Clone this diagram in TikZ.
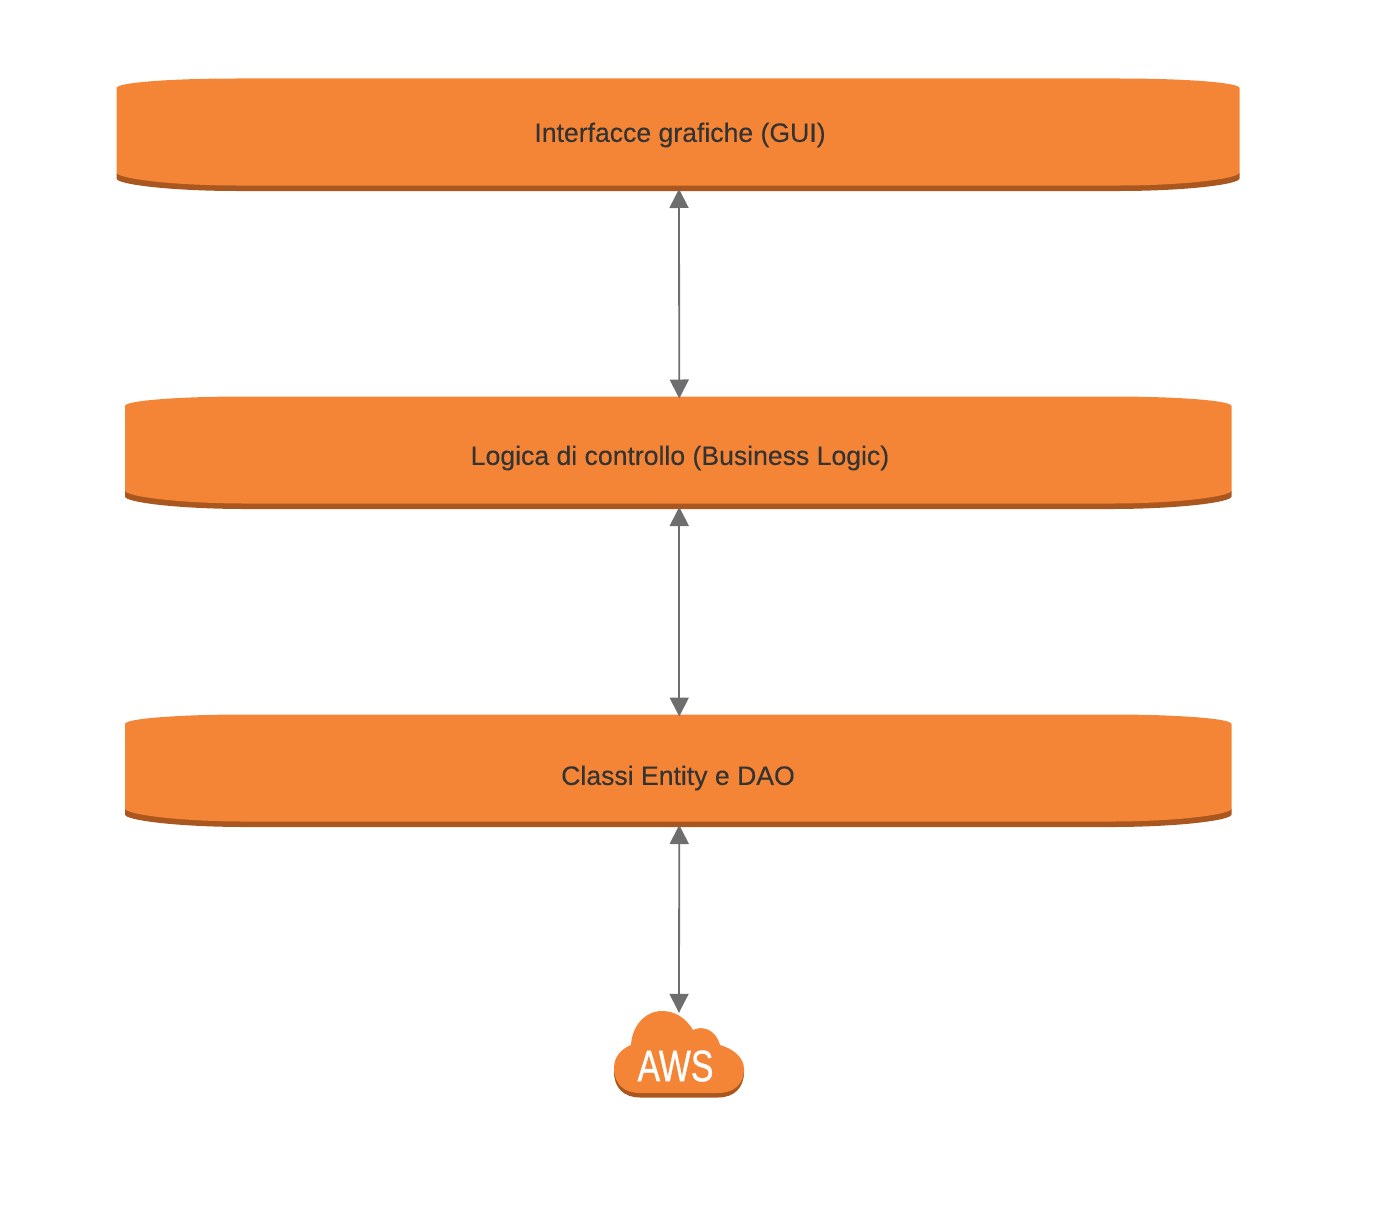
\documentclass[tikz,border=0pt]{standalone}
\usepackage{fontspec}
\setmainfont{Liberation Sans}
\newfontfamily\labelface[FakeBold=0.25]{Liberation Sans}
\newfontfamily\awsface[FakeBold=0.9]{Liberation Sans}
\usetikzlibrary{arrows.meta,calc}
\definecolor{awsorange}{HTML}{F58536}
\definecolor{awsdark}{HTML}{A9571F}
\definecolor{linkgray}{HTML}{6E6E6E}
\definecolor{labelink}{HTML}{333333}
\tikzset{
  layerbox/.style={rectangle,inner sep=0pt,outer sep=0pt},
  layertext/.style={inner sep=0pt,text=labelink,font=\labelface\fontsize{26.6}{30}\selectfont},
  link/.style={draw=linkgray,line width=1.8pt,{Triangle[length=19pt,width=19pt]}-{Triangle[length=19pt,width=19pt]},shorten >=-2pt,shorten <=-2pt},
}
% layer: name, left, right, top
\newcommand{\layerdraw}[4]{%
  \pgfmathsetmacro{\ll}{#2}\pgfmathsetmacro{\rr}{#3}\pgfmathsetmacro{\tp}{#4}
  \fill[awsdark] (\ll,\tp+94) -- (\ll,\tp+100) .. controls (\ll,\tp+106) and (\ll+55,\tp+112.5) .. (\ll+120,\tp+112.5)
     -- (\rr-120,\tp+112.5) .. controls (\rr-55,\tp+112.5) and (\rr,\tp+106) .. (\rr,\tp+100) -- (\rr,\tp+94) -- cycle;
  \fill[awsorange] (\ll,\tp+9.5) .. controls (\ll,\tp+4) and (\ll+55,\tp) .. (\ll+120,\tp)
     -- (\rr-120,\tp) .. controls (\rr-55,\tp) and (\rr,\tp+4) .. (\rr,\tp+9.5)
     -- (\rr,\tp+94) .. controls (\rr,\tp+100) and (\rr-55,\tp+107) .. (\rr-120,\tp+107)
     -- (\ll+120,\tp+107) .. controls (\ll+55,\tp+107) and (\ll,\tp+100) .. (\ll,\tp+94) -- cycle;
  \node[layerbox,minimum width=\rr pt-\ll pt,minimum height=112.5pt] (#1) at ({(\ll+\rr)/2},\tp+56.25) {};
}
\begin{document}
\begin{tikzpicture}[x=1pt,y=-1pt]
\useasboundingbox (0,0) rectangle (1388,1204);
\layerdraw{gui}{116.5}{1239.5}{78.5}
\layerdraw{logic}{125}{1231.5}{396.5}
\layerdraw{entity}{125}{1231.5}{714.5}
\node[layertext] (guitext) at (680,135) {Interfacce grafiche (GUI)};
\node[layertext] (logictext) at (680,458) {Logica di controllo (Business Logic)};
\node[layertext] (entitytext) at (678,778) {Classi Entity e DAO};
% cloud
\fill[awsdark] (614,1068) -- (614,1072) .. controls (614,1088) and (624,1097.5) .. (640,1097.5)
  -- (718,1097.5) .. controls (734,1097.5) and (744,1088) .. (744,1072) -- (744,1068) -- cycle;
\fill[awsorange] (631,1045) .. controls (632,1026) and (645,1011) .. (662,1011)
  .. controls (675,1011) and (686,1018) .. (693,1030)
  .. controls (703,1025) and (716,1030) .. (720,1045)
  .. controls (734,1049) and (744,1058) .. (744,1069)
  .. controls (744,1084) and (734,1093) .. (718,1093)
  -- (640,1093)
  .. controls (624,1093) and (614,1084) .. (614,1068)
  .. controls (614,1057) and (621,1049) .. (631,1045) -- cycle;
\node[rectangle,inner sep=0pt,minimum width=130pt,minimum height=87pt] (aws) at (679,1054.5) {};
\node[inner sep=0pt,text=white,xscale=.77,font=\awsface\fontsize{44}{48}\selectfont] (awstext) at (675.5,1066) {AWS};
% connectors
\draw[link] ([xshift=1pt]gui.south) -- ([xshift=1pt]logic.north);
\draw[link] ([xshift=1pt]logic.south) -- ([xshift=1pt]entity.north);
\draw[link] ([xshift=1pt]entity.south) -- (aws.north);
\end{tikzpicture}
\end{document}
